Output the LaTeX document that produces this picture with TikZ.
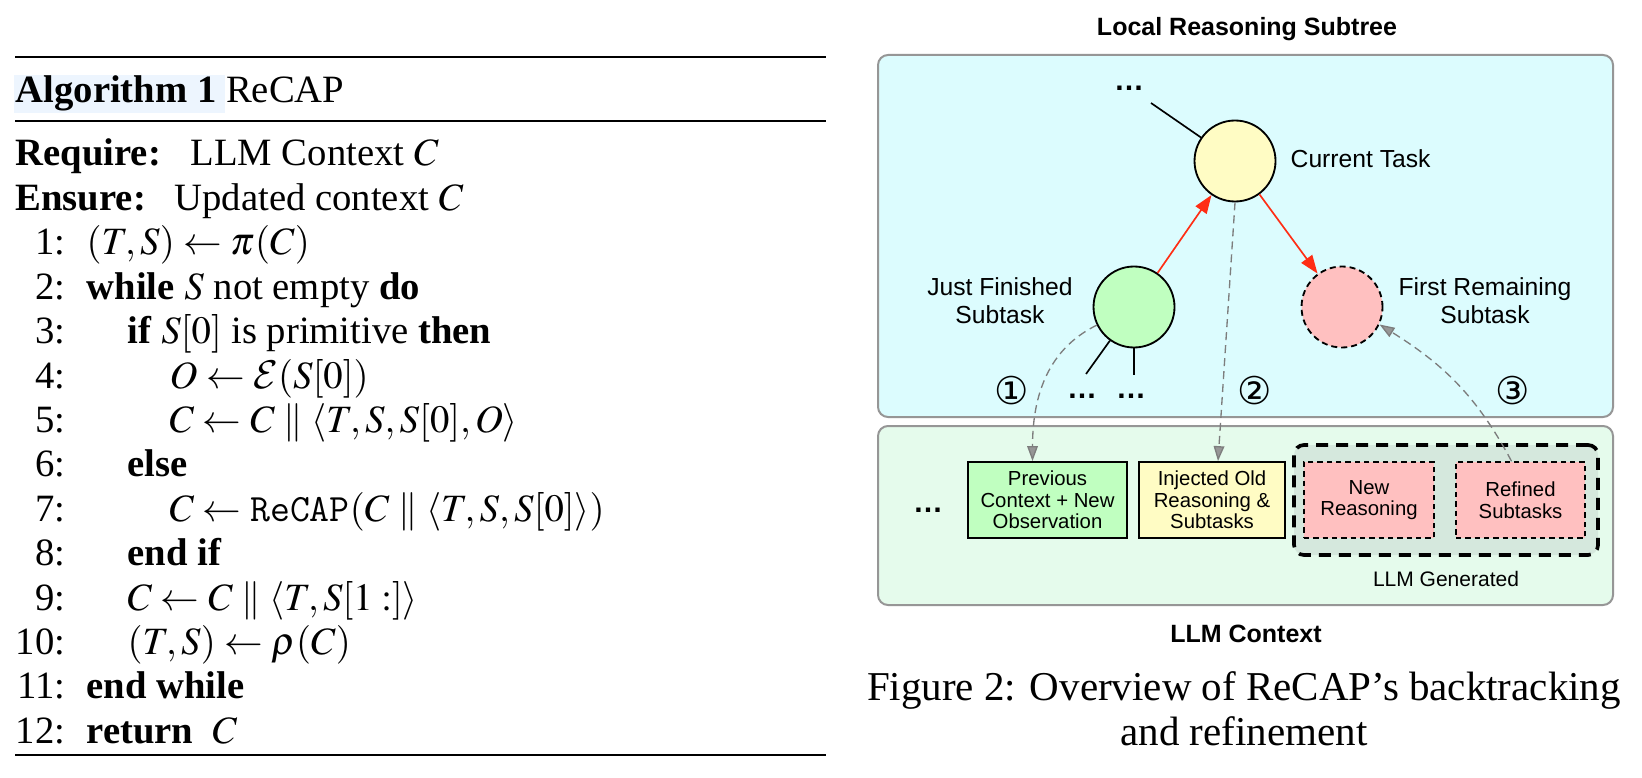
\documentclass[tikz,border=0pt]{standalone}
\usepackage{mathptmx}
\usepackage{fontspec}
\setmainfont{Liberation Serif}
\setsansfont{Liberation Sans}
\newfontfamily\djv{DejaVu Sans}
\DeclareMathAlphabet{\mathcmcal}{OMS}{cmsy}{m}{n}
\usetikzlibrary{arrows.meta,calc}
\definecolor{topfill}{RGB}{220,252,254}
\definecolor{botfill}{RGB}{229,251,236}
\definecolor{panelline}{RGB}{150,150,150}
\definecolor{yel}{RGB}{255,252,196}
\definecolor{grn}{RGB}{192,255,192}
\definecolor{pnk}{RGB}{255,192,192}
\definecolor{genfill}{RGB}{213,232,221}
\definecolor{redarr}{RGB}{255,45,20}
\definecolor{dgray}{RGB}{125,125,125}
\definecolor{tipgray}{RGB}{150,150,150}
\definecolor{hl}{RGB}{237,245,254}
\begin{document}
\begin{tikzpicture}[x=0.3pt,y=-0.3pt,
  alg/.style={anchor=base west, inner sep=0pt, font=\fontsize{11.6}{13.9}\selectfont},
  lnum/.style={anchor=base east, inner sep=0pt, font=\fontsize{11.6}{13.9}\selectfont},
  panel/.style={draw=panelline, line width=0.6pt, rounded corners=3pt, inner sep=0pt},
  ttl/.style={font=\sffamily\bfseries\fontsize{7.5}{9}\selectfont, inner sep=0pt},
  lbl/.style={font=\sffamily\fontsize{7.4}{8.4}\selectfont, inner sep=0pt, align=center},
  circ/.style={circle, draw=black, line width=0.55pt, minimum size=24.3pt, inner sep=0pt},
  dotsnode/.style={font=\sffamily\bfseries\fontsize{9}{10}\selectfont, inner sep=0pt},
  num/.style={font=\djv\fontsize{11.5}{13}\selectfont, inner sep=0pt},
  tree/.style={draw=black, line width=0.5pt},
  redarrow/.style={draw=redarr, line width=0.5pt, -{Triangle[length=5.5pt,width=4pt]}},
  grayarrow/.style={draw=dgray, line width=0.4pt, dash pattern=on 2.4pt off 1.5pt,
     -{Triangle[length=4.5pt,width=3.2pt,fill=tipgray]}},
  cbox/.style={draw=black, line width=0.55pt, minimum height=22.8pt, inner sep=0pt, align=center,
     font=\sffamily\fontsize{6.1}{6.5}\selectfont},
  dbox/.style={draw=black, fill=pnk, line width=0.45pt, dash pattern=on 1.6pt off 1.2pt,
     minimum height=22.8pt, inner sep=0pt, align=center, font=\sffamily\fontsize{6.1}{6.5}\selectfont},
  genbox/.style={draw=black, fill=genfill, line width=1.1pt, dash pattern=on 3.6pt off 2.4pt,
     rounded corners=3pt, minimum width=91.2pt, minimum height=33pt, inner sep=0pt},
  smalltxt/.style={font=\sffamily\fontsize{6.3}{6.7}\selectfont, inner sep=0pt},
  captxt/.style={font=\fontsize{12.3}{14}\selectfont, inner sep=0pt, anchor=base}
]
\useasboundingbox (0,0) rectangle (1642,777);
\fill[white] (0,0) rectangle (1642,777);

% ---------------- Algorithm ----------------
\draw[line width=0.8pt] (15,57) -- (826,57);
\fill[hl] (14,75) rectangle (225,113);
\node[alg] (algttl) at (15,103) {\textbf{Algorithm 1} ReCAP};
\draw[line width=0.4pt] (15,121) -- (826,121);
\node[alg] (req) at (15,166) {\textbf{Require:}};
\node[alg] (reqt) at (190,166) {LLM Context $C$};
\node[alg] (ens) at (15,210.4) {\textbf{Ensure:}};
\node[alg] (enst) at (174,210.4) {Updated context $C$};
\foreach \n/\yy in {1/254.8,2/299.2,3/343.6,4/388,5/432.4,6/476.8,7/521.2,8/565.6,9/610,10/654.4,11/698.8,12/743.2}
  \node[lnum] (n\n) at (66,\yy) {\n:};
\node[alg] (l1) at (86,254.8) {$(T,S)\leftarrow\pi(C)$};
\node[alg] (l2) at (86,299.2) {\textbf{while} $S$ not empty \textbf{do}};
\node[alg] (l3) at (127,343.6) {\textbf{if} $S[0]$ is primitive \textbf{then}};
\node[alg] (l4) at (169,388) {$O\leftarrow\mathcmcal{E}(S[0])$};
\node[alg] (l5) at (169,432.4) {$C\leftarrow C\parallel\langle T,S,S[0],O\rangle$};
\node[alg] (l6) at (127,476.8) {\textbf{else}};
\node[alg] (l7) at (169,521.2) {$C\leftarrow\texttt{ReCAP}(C\parallel\langle T,S,S[0]\rangle)$};
\node[alg] (l8) at (127,565.6) {\textbf{end if}};
\node[alg] (l9) at (127,610) {$C\leftarrow C\parallel\langle T,S[1:]\rangle$};
\node[alg] (l10) at (127,654.4) {$(T,S)\leftarrow\rho(C)$};
\node[alg] (l11) at (86,698.8) {\textbf{end while}};
\node[alg] (l12) at (86,743.2) {\textbf{return}\ \ $C$};
\draw[line width=0.4pt] (15,755) -- (826,755);

% ---------------- Figure ----------------
\node[ttl] (ttltop) at (1247,29) {Local Reasoning Subtree};
\node[panel, fill=topfill, minimum width=220.5pt, minimum height=108.6pt] (toppanel) at (1245.5,236) {};
\node[panel, fill=botfill, minimum width=220.5pt, minimum height=53.7pt] (botpanel) at (1245.5,515.5) {};
\node[ttl] (ttlbot) at (1246,634) {LLM Context};

% tree
\node[circ, fill=yel] (cur) at (1235,161) {};
\node[circ, fill=grn] (jf) at (1134,307) {};
\node[circ, fill=pnk, dash pattern=on 1.8pt off 1.2pt] (fr) at (1342,307) {};
\node[lbl, anchor=west] (curl) at (1290,159) {Current Task};
\node[lbl] (jfl) at (1000,301) {Just Finished\\Subtask};
\node[lbl] (frl) at (1485,301) {First Remaining\\Subtask};

\node[dotsnode] (d0) at (1129,88) {…};
\coordinate (t0) at (1151,103);
\draw[tree] (t0) -- (cur);
\coordinate (c1) at (1086,374);
\coordinate (c2) at (1134,375);
\draw[tree] (jf) -- (c1);
\draw[tree] (jf) -- (c2);
\node[dotsnode] (d1) at (1082,396) {…};
\node[dotsnode] (d2) at (1131,396) {…};

\draw[redarrow] (jf) -- (cur);
\draw[redarrow] (cur) -- (fr);

\node[num] (k1) at (1012,391) {①};
\node[num] (k2) at (1255,391) {②};
\node[num] (k3) at (1513,391) {③};

% context row
\node[dotsnode] (d3) at (928,510) {…};
\node[cbox, fill=grn, minimum width=47.7pt] (prev) at (1047.5,500) {Previous\\Context + New\\Observation};
\node[cbox, fill=yel, minimum width=43.8pt] (inj) at (1212,500) {Injected Old\\Reasoning \&\\Subtasks};
\node[genbox] (gen) at (1446,500) {};
\node[dbox, minimum width=39pt] (newr) at (1369,500) {New\\Reasoning};
\node[dbox, minimum width=38.7pt] (refd) at (1520.5,500) {Refined\\Subtasks};
\node[smalltxt] (genl) at (1446,579) {LLM Generated};

% dashed transfers
\draw[grayarrow] (jf.206) to[out=206,in=90] ($(prev.north)+(-15,0)$);
\draw[grayarrow] (cur.south) -- ($(inj.north)+(6,0)$);
\draw[grayarrow] ($(refd.north)+(-9,0)$) to[out=118,in=-32] (fr.-25);

% caption
\node[captxt] (cap1) at (1244,700) {Figure 2: Overview of ReCAP’s backtracking};
\node[captxt] (cap2) at (1244,745) {and refinement};
\end{tikzpicture}
\end{document}
